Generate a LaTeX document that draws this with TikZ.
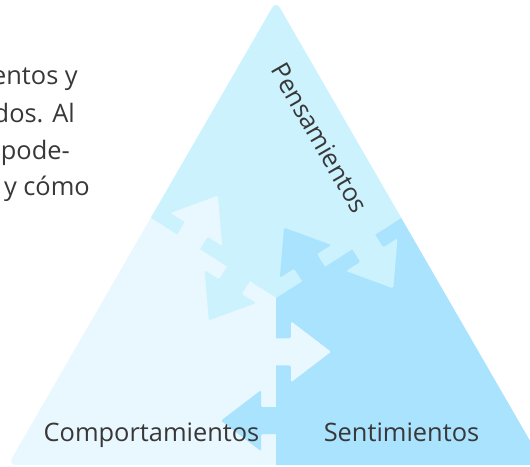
\documentclass[tikz,border=0pt]{standalone}
\usepackage{fontspec}
\setmainfont{Open Sans}
\definecolor{pensblue}{RGB}{204, 242, 254}
\definecolor{compblue}{RGB}{233, 247, 254}
\definecolor{sentblue}{RGB}{170, 227, 254}
\definecolor{textgray}{RGB}{56, 56, 56}
\usetikzlibrary{calc,positioning}
\tikzset{
  pics/flecha/.style={code={
    \fill[#1, rounded corners=1.5pt] (-2,-13.5) -- (15,-13.5) -- (15,-30.5) -- (55,0) -- (15,30.5) -- (15,13.5) -- (-2,13.5) -- cycle;
  }}
}

\begin{document}
\begin{tikzpicture}[x=1pt, y=-1pt, every node/.style={font=\fontsize{25.4}{30}\selectfont, text=textgray, inner sep=0pt}]
    \useasboundingbox (0,0) rectangle (530,466);
    \clip (0,0) rectangle (530,466);

    % Paragraph cut at the left edge
    \node[anchor=base east] (line1) at (78,84) {entos y};
    \node[anchor=base east] (line2) at (75,122) {dos. Al};
    \node[anchor=base east] (line3) at (70,159) {pode-};
    \node[anchor=base east] (line4) at (90,195) {y cómo};

    % Triangle points
    \coordinate (apex) at (276,1);
    \coordinate (bl) at (8,465);
    \coordinate (br) at (544,465);
    \coordinate (J) at (276,298);
    \coordinate (L) at (150.7,218);
    \coordinate (R) at (401.3,218);
    \coordinate (B) at (276,466);

    % Regions
    \begin{scope}
        \clip[rounded corners=8pt] (apex) -- (br) -- (bl) -- cycle;
        \fill[pensblue] (J) -- ($(J)!1.5!(R)$) -- (276,-60) -- ($(J)!1.5!(L)$) -- cycle;
        \fill[compblue] (J) -- ($(J)!1.5!(L)$) -- (-60,520) -- (276,520) -- cycle;
        \fill[sentblue] (J) -- ($(J)!1.5!(R)$) -- (600,520) -- (276,520) -- cycle;
    \end{scope}

    % Arrows between regions
    \coordinate (a1) at ($(J)!0.3!(L)$);
    \coordinate (a2) at ($(J)!0.7!(L)$);
    \coordinate (a3) at ($(J)!0.3!(R)$);
    \coordinate (a4) at ($(J)!0.7!(R)$);
    \coordinate (a5) at ($(J)!0.32!(B)$);
    \coordinate (a6) at ($(J)!0.73!(B)$);
    \pic[rotate=237.45] at (a1) {flecha=pensblue};
    \pic[rotate=57.45] at (a2) {flecha=compblue};
    \pic[rotate=122.55] at (a3) {flecha=sentblue};
    \pic[rotate=-57.45] at (a4) {flecha=pensblue};
    \pic[rotate=0] at (a5) {flecha=compblue};
    \pic[rotate=180] at (a6) {flecha=sentblue};

    % Labels
    \node[rotate=-60] (pens) at (320,138) {Pensamientos};
    \node[anchor=base] (comp) at (151.5,441) {Comportamientos};
    \node[anchor=base] (sent) at (401.5,441) {Sentimientos};
\end{tikzpicture}
\end{document}
